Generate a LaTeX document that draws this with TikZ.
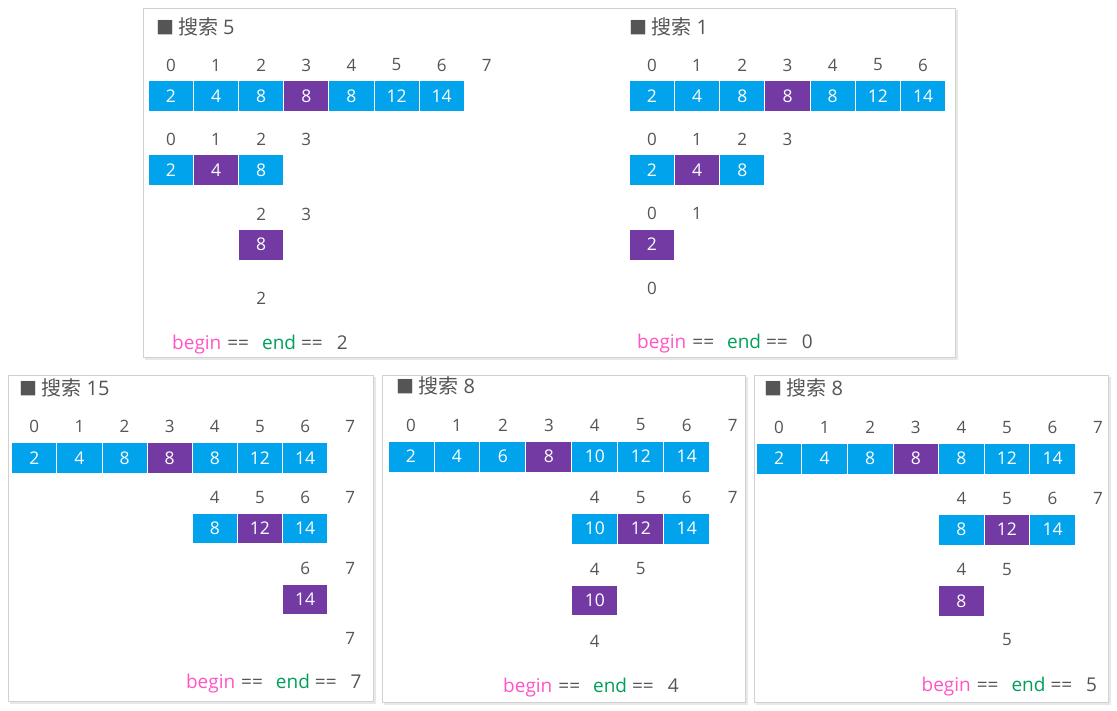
\documentclass[tikz,border=0pt]{standalone}
\usepackage{fontspec}
\setmainfont{Open Sans}
\newfontfamily\cjk{Noto Sans CJK SC}
\definecolor{cblue}{RGB}{0,163,236}
\definecolor{cpurple}{RGB}{116,58,164}
\definecolor{cpink}{RGB}{255,85,200}
\definecolor{cgreen}{RGB}{0,160,90}
\definecolor{ctext}{RGB}{85,85,85}
\tikzset{
  panel/.style={fill=white, draw=black!18, line width=0.8pt},
  pshadow/.style={fill=black!9, draw=none},
  cellbox/.style={draw=white, line width=0.9pt, inner sep=0pt, text=white,
    font=\fontsize{17.5}{17.5}\selectfont},
  bluecell/.style={cellbox, fill=cblue},
  purplecell/.style={cellbox, fill=cpurple},
  idxlabel/.style={text=ctext, font=\fontsize{17}{17}\selectfont, inner sep=0pt},
  titletext/.style={anchor=west, text=ctext, font=\fontsize{20}{20}\selectfont, inner sep=0pt},
  resulttext/.style={text=ctext, font=\fontsize{19}{19}\selectfont, inner sep=0pt}
}
% #1 name, #2 x0, #3 w, #4 ytop, #5 ybot, #6 start index, #7 values, #8 purple index
\newcommand{\mycellrow}[8]{%
  \foreach \v [count=\k from 0] in {#7} {
    \pgfmathtruncatemacro\ci{#6+\k}
    \pgfmathsetmacro\cx{#2+(\ci+0.5)*#3}
    \pgfmathsetmacro\cy{(#4+#5)/2}
    \pgfmathsetmacro\ch{#5-#4}
    \ifnum\ci=#8
      \node[purplecell, minimum width=#3pt, minimum height=\ch pt] (#1-\ci) at (\cx,\cy) {\v};
    \else
      \node[bluecell, minimum width=#3pt, minimum height=\ch pt] (#1-\ci) at (\cx,\cy) {\v};
    \fi
  }%
}
% #1 name, #2 x0, #3 w, #4 y, #5 from, #6 to
\newcommand{\mylabrow}[6]{%
  \foreach \i in {#5,...,#6} {
    \pgfmathsetmacro\lx{#2+(\i+0.5)*#3}
    \node[idxlabel] (#1-\i) at (\lx,#4) {\i};
  }%
}
\newcommand{\myres}[1]{\textcolor{cpink}{begin}\hspace{6pt}==\hspace{13pt}\textcolor{cgreen}{end}\hspace{5pt}==\hspace{14pt}#1}
\newcommand{\mytitle}[1]{{\cjk\fontsize{18}{18}\selectfont ■}\hspace{4pt}{\cjk 搜索}\hspace{5pt}#1}
\begin{document}
\begin{tikzpicture}[x=1pt,y=-1pt]
\useasboundingbox (0,0) rectangle (1117,710);
\fill[white] (0,0) rectangle (1117,710);
% panels
\fill[pshadow] (145,10) rectangle (957.5,359.5);
\draw[panel] (143,8) rectangle (955,357);
\fill[pshadow] (10,377) rectangle (375.5,703.5);
\draw[panel] (8,375) rectangle (373,701);
\fill[pshadow] (384,377) rectangle (747.5,704.5);
\draw[panel] (382,375) rectangle (745,702);
\fill[pshadow] (756,377) rectangle (1110.5,704.5);
\draw[panel] (754,375) rectangle (1108,702);

% ---------- top-left: search 5
\node[titletext] (tlt) at (156,26.7) {\mytitle{5}};
\mylabrow{tla}{148.3}{45.14}{65}{0}{7}
\mycellrow{tlc}{148.3}{45.14}{80.7}{111}{0}{2,4,8,8,8,12,14}{3}
\mylabrow{tlb}{148.3}{45.14}{139}{0}{3}
\mycellrow{tld}{148.3}{45.14}{154.7}{185}{0}{2,4,8}{1}
\mylabrow{tle}{148.3}{45.14}{214}{2}{3}
\mycellrow{tlf}{148.3}{45.14}{229.3}{260}{2}{8}{2}
\mylabrow{tlg}{148.3}{45.14}{298.7}{2}{2}
\node[resulttext, anchor=west] (tlr) at (172,345) {\myres{2}};

% ---------- top-right: search 1
\node[titletext] (trt) at (629.5,26.7) {\mytitle{1}};
\mylabrow{tra}{629.3}{45.2}{65}{0}{6}
\mycellrow{trc}{629.3}{45.2}{80.7}{111}{0}{2,4,8,8,8,12,14}{3}
\mylabrow{trb}{629.3}{45.2}{139}{0}{3}
\mycellrow{trd}{629.3}{45.2}{154.7}{185}{0}{2,4,8}{1}
\mylabrow{tre}{629.3}{45.2}{213}{0}{1}
\mycellrow{trf}{629.3}{45.2}{229.3}{260}{0}{2}{0}
\mylabrow{trg}{629.3}{45.2}{288}{0}{0}
\node[resulttext, anchor=west] (trr) at (637,344) {\myres{0}};

% ---------- bottom A: search 15
\node[titletext] (at) at (19.5,388) {\mytitle{15}};
\mylabrow{aa}{11.7}{45.14}{426.7}{0}{7}
\mycellrow{ac}{11.7}{45.14}{442.7}{473.3}{0}{2,4,8,8,8,12,14}{3}
\mylabrow{ab}{11.7}{45.14}{497.3}{4}{7}
\mycellrow{ad}{11.7}{45.14}{513.3}{543.3}{4}{8,12,14}{5}
\mylabrow{ae}{11.7}{45.14}{568.3}{6}{7}
\mycellrow{af}{11.7}{45.14}{584}{614}{6}{14}{6}
\mylabrow{ag}{11.7}{45.14}{638.3}{7}{7}
\node[resulttext, anchor=east] (ar) at (361.7,684) {\myres{7}};

% ---------- bottom B: search 8
\node[titletext] (bt) at (396.5,386) {\mytitle{8}};
\mylabrow{ba}{388}{45.96}{425}{0}{7}
\mycellrow{bc}{388}{45.96}{441}{472.3}{0}{2,4,6,8,10,12,14}{3}
\mylabrow{bb}{388}{45.96}{497.3}{4}{7}
\mycellrow{bd}{388}{45.96}{513.3}{544}{4}{10,12,14}{5}
\mylabrow{be}{388}{45.96}{569}{4}{5}
\mycellrow{bf}{388}{45.96}{585}{615.7}{4}{10}{4}
\mylabrow{bg}{388}{45.96}{641.7}{4}{4}
\node[resulttext, anchor=west] (br) at (503,687.3) {\myres{4}};

% ---------- bottom C: search 8
\node[titletext] (ct) at (764.5,388.3) {\mytitle{8}};
\mylabrow{ca}{756.3}{45.57}{427.7}{0}{7}
\mycellrow{cc}{756.3}{45.57}{443.3}{474}{0}{2,4,8,8,8,12,14}{3}
\mylabrow{cb}{756.3}{45.57}{498.3}{4}{7}
\mycellrow{cd}{756.3}{45.57}{514.3}{545}{4}{8,12,14}{5}
\mylabrow{ce}{756.3}{45.57}{569.3}{4}{5}
\mycellrow{cf}{756.3}{45.57}{585.7}{616}{4}{8}{4}
\mylabrow{cg}{756.3}{45.57}{640}{5}{5}
\node[resulttext, anchor=east] (cr) at (1097.3,686.7) {\myres{5}};
\end{tikzpicture}
\end{document}
